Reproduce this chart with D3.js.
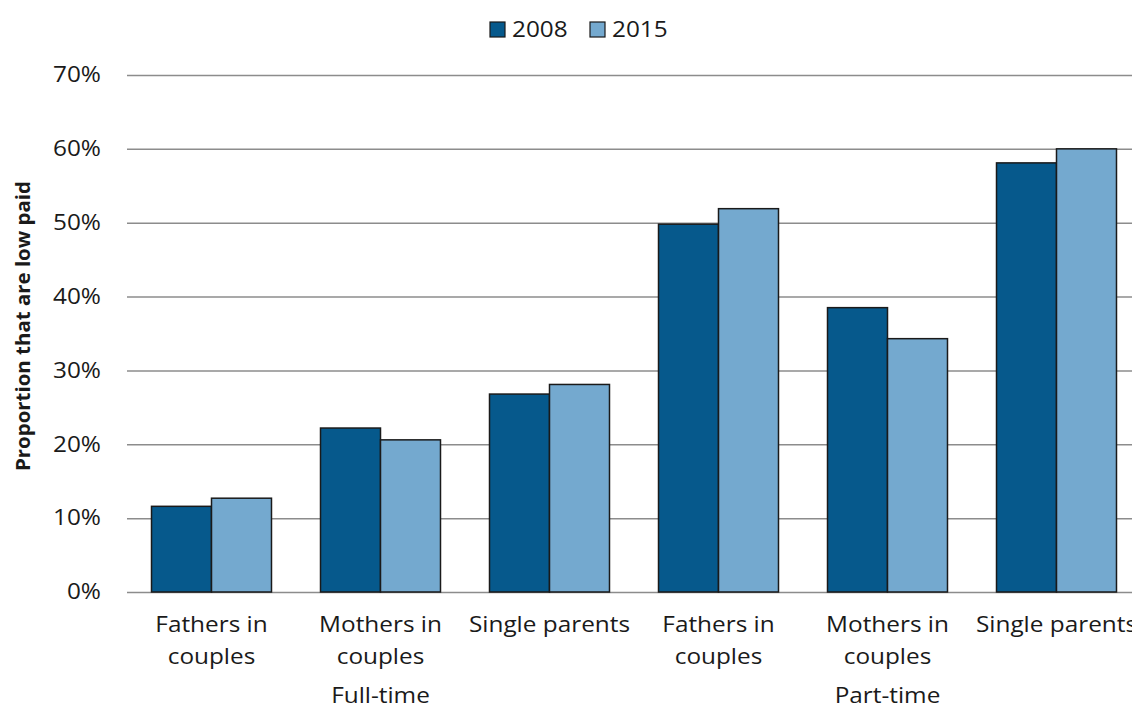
<!DOCTYPE html>
<html>
<head>
<meta charset="utf-8">
<script src="https://cdn.jsdelivr.net/npm/d3@7"></script>
<style>
  html, body { margin: 0; padding: 0; background: #fff; }
  svg { display: block; }
  text { font-family: "Open Sans", "Lato", sans-serif; fill: #1a1a1a; }
</style>
</head>
<body>
<svg id="chart" width="1132" height="709"></svg>
<script>
const categories = ["Fathers in couples", "Mothers in couples", "Single parents", "Fathers in couples", "Mothers in couples", "Single parents"];
const categoryLines = [["Fathers in", "couples"], ["Mothers in", "couples"], ["Single parents"], ["Fathers in", "couples"], ["Mothers in", "couples"], ["Single parents"]];
const groups = ["Full-time", "Part-time"];
const groupOf = [0, 0, 0, 1, 1, 1];
const seriesNames = ["2008", "2015"];
const values2008 = [0.116, 0.222, 0.268, 0.498, 0.385, 0.581];
const values2015 = [0.127, 0.206, 0.281, 0.519, 0.343, 0.600];
const yTicks = [0, 0.1, 0.2, 0.3, 0.4, 0.5, 0.6, 0.7];
const yTitle = "Proportion that are low paid";

const colors = { "2008": "#06598c", "2015": "#74a9cf" };
const SX = 1.16; // horizontal stretch of the reference's text
const svg = d3.select("#chart");

const x0 = d3.scaleBand().domain(d3.range(categories.length)).range([127, 1141])
  .paddingInner(0.29).paddingOuter(0.145);
const x1 = d3.scaleBand().domain(seriesNames).range([0, x0.bandwidth()]);
const y = d3.scaleLinear().domain([0, 0.7]).range([592, 75]);

// gridlines + y labels
const yAxis = d3.axisLeft(y).tickValues(yTicks).tickFormat(d3.format(".0%"))
  .tickSize(-(1132 - 127)).tickPadding(26);
const gy = svg.append("g").attr("transform", "translate(127,0)").call(yAxis);
gy.select(".domain").remove();
gy.selectAll(".tick line").attr("stroke", "#8c8c8c").attr("stroke-width", 1.5);
gy.selectAll(".tick text").attr("font-size", 21).attr("fill", "#1a1a1a")
  .style("font-family", "'Open Sans', Lato, sans-serif")
  .attr("x", -26 / SX).attr("transform", `scale(${SX},1)`);

// bars
const data = categories.map((c, i) => ({ i, vals: [
  { key: "2008", v: values2008[i] }, { key: "2015", v: values2015[i] }] }));
const g = svg.append("g");
const cat = g.selectAll("g.cat").data(data).join("g")
  .attr("transform", d => `translate(${x0(d.i)},0)`);
cat.selectAll("rect").data(d => d.vals).join("rect")
  .attr("x", d => x1(d.key))
  .attr("y", d => y(d.v))
  .attr("width", x1.bandwidth())
  .attr("height", d => y(0) - y(d.v))
  .attr("fill", d => colors[d.key])
  .attr("stroke", "#1a1a1a").attr("stroke-width", 1.5);

function stretched(parent, x, yy, str, size, anchor) {
  return parent.append("text")
    .attr("transform", `translate(${x},${yy}) scale(${SX},1)`)
    .attr("text-anchor", anchor || "middle").attr("font-size", size).text(str);
}

// category labels
const lab = svg.append("g");
categoryLines.forEach((lines, i) => {
  const cx = x0(i) + x0.bandwidth() / 2;
  lines.forEach((ln, k) => stretched(lab, cx, 632 + k * 32, ln, 21));
});

// group labels
groups.forEach((gname, gi) => {
  const idx = d3.range(categories.length).filter(i => groupOf[i] === gi);
  const cx = d3.mean(idx, i => x0(i) + x0.bandwidth() / 2);
  stretched(lab, cx, 703, gname, 21);
});

// y title
svg.append("text")
  .attr("transform", "translate(30,326) rotate(-90)")
  .attr("text-anchor", "middle").attr("font-size", 19).attr("font-weight", "bold")
  .attr("textLength", 290).attr("lengthAdjust", "spacingAndGlyphs")
  .text(yTitle);

// legend
const leg = svg.append("g");
const legX = [490, 590];
seriesNames.forEach((s, i) => {
  leg.append("rect").attr("x", legX[i]).attr("y", 22).attr("width", 15).attr("height", 15)
    .attr("fill", colors[s]).attr("stroke", "#1a1a1a").attr("stroke-width", 1.2);
  stretched(leg, legX[i] + 22, 37, s, 21, "start");
});
</script>
</body>
</html>
